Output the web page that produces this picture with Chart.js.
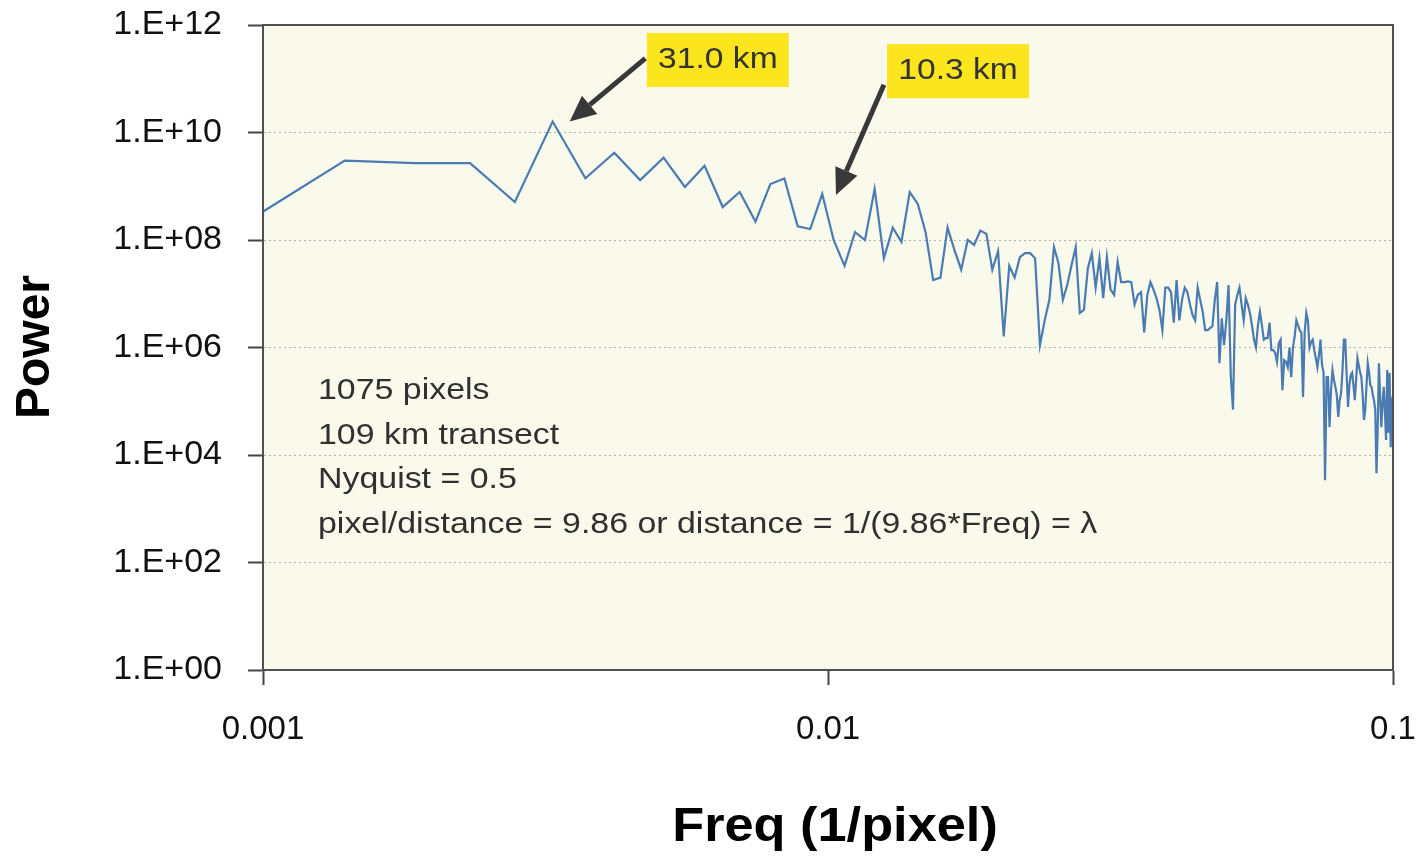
<!DOCTYPE html>
<html>
<head>
<meta charset="utf-8">
<title>Power spectrum</title>
<script src="https://cdn.jsdelivr.net/npm/chart.js@4.4.1/dist/chart.umd.min.js"></script>
<style>
  html, body { margin: 0; padding: 0; background: #ffffff; }
  canvas { display: block; }
</style>
</head>
<body>
<canvas id="grafico" width="1416" height="857"></canvas>
<script>
// transect sampled at 1075 pixels, FFT padded to 2150 points -> bin k sits at k/2150 cycles per pixel
const fftLength = 2150;
const firstBin = 2;

// power per bin, from bin 2 upward
const power = [
  2.1e8, 3.0e9, 2.7e9, 2.7e9, 5.1e8, 1.6e10, 1.4e9, 4.2e9, 1.3e9, 3.4e9,
  9.7e8, 2.4e9, 4.1e8, 7.8e8, 2.2e8, 1.1e9, 1.4e9, 1.8e8, 1.6e8, 7.2e8,
  1.0e8, 3.3e7, 1.4e8, 1.0e8, 8.9e8, 4.6e7, 1.7e8, 9.2e7, 7.8e8, 4.7e8,
  1.4e8, 1.8e7, 2.0e7, 1.7e8, 6.5e7, 2.8e7, 1.0e8, 8.1e7, 1.5e8, 1.3e8,
  2.8e7, 6.2e7, 1.6e6, 3.3e7, 2.0e7, 4.8e7, 5.7e7, 5.7e7, 4.6e7, 1.1e6,
  3.2e6, 7.7e6, 7.4e7, 3.7e7, 7.7e6, 1.45e7, 3.4e7, 7.4e7, 4.4e6, 5.0e6,
  3.0e7, 5.7e7, 1.3e7, 4.6e7, 8.3e6, 4.8e7, 1.2e7, 9.5e6, 3.9e7, 1.65e7,
  1.65e7, 1.7e7, 1.65e7, 6.3e6, 9.5e6, 1.07e7, 1.9e6, 9.5e6, 1.65e7, 1.2e7,
  8.3e6, 5.0e6, 2.1e6, 1.3e7, 1.3e7, 1.07e7, 2.9e6, 1.8e7, 3.2e6, 7.7e6,
  1.3e7, 1.07e7, 6.3e6, 4.0e6, 3.2e6, 1.3e7, 7.7e6, 4.6e6, 2.1e6, 2.1e6,
  2.3e6, 2.5e6, 7.7e6, 1.65e7, 5.1e5, 3.5e6, 1.1e6, 3.2e6, 1.45e7, 3.0e5,
  7.0e4, 6.3e6, 9.5e6, 1.3e7, 6.3e6, 3.2e6, 8.3e6, 6.3e6, 4.4e6, 2.6e6,
  1.4e6, 1.0e6, 2.6e6, 4.6e6, 2.6e6, 1.4e6, 1.5e6, 1.5e6, 2.9e6, 8.9e5,
  8.9e5, 7.9e5, 5.4e5, 1.2e6, 1.4e6, 1.6e5, 5.8e5, 5.4e5, 4.3e5, 1.0e6,
  2.8e5, 1.0e6, 1.6e6, 3.2e6, 2.6e6, 2.1e6, 1.9e6, 1.2e5, 1.9e6, 4.4e6,
  3.2e6, 1.0e6, 1.26e6, 1.4e6, 8.9e5, 6.3e5, 4.3e5, 7.2e5, 1.4e6, 4.7e5,
  3.5e5, 3.4e3, 2.8e5, 2.8e5, 3.3e4, 1.6e5, 3.8e5, 2.5e5, 1.85e5, 1.3e5,
  5.1e4, 1.05e5, 1.4e5, 3.8e5, 1.4e6, 1.4e6, 3.1e5, 7.8e4, 2.0e5, 3.1e5,
  3.4e5, 2.0e5, 1.05e5, 2.5e5, 6.3e5, 4.7e5, 3.5e5, 2.8e5, 1.3e5, 4.5e4,
  6.9e4, 2.0e5, 5.1e5, 3.5e5, 2.0e5, 1.85e5, 1.3e5, 1.05e5, 6.9e4, 4.6e3,
  3.0e4, 5.1e5, 1.3e5, 3.3e4, 8.5e4, 1.85e5, 6.9e4, 1.9e4, 3.8e5, 2.6e4,
  3.4e5, 1.4e4, 1.05e5, 1.3e5
];

const xTicks = [0.001, 0.01, 0.1];
const xTickLabels = ["0.001", "0.01", "0.1"];
const yTicks = [1, 1e2, 1e4, 1e6, 1e8, 1e10, 1e12];
const yTickLabels = ["1.E+00", "1.E+02", "1.E+04", "1.E+06", "1.E+08", "1.E+10", "1.E+12"];

const notas = [
  "1075 pixels",
  "109 km transect",
  "Nyquist = 0.5",
  "pixel/distance = 9.86 or distance = 1/(9.86*Freq) = \u03bb",
];

// callouts: yellow label box (top-left corner), arrow tail and arrow tip, in freq/power
const etiquetas = [
  { texto: "31.0 km", caja: [0.00478, 7.1e11], cola: [0.00475, 2.4e11], punta: [0.00349, 1.6e10] },
  { texto: "10.3 km", caja: [0.01272, 4.4e11], cola: [0.01256, 7.7e10], punta: [0.01033, 6.9e8] },
];

const puntos = power.map((p, i) => ({ x: (firstBin + i) / fftLength, y: p }));

const FAMILIA = "'Liberation Sans', Arial, sans-serif";

function textoAncho(ctx, txt, x, y, escala) {
  ctx.save();
  ctx.translate(x, y);
  ctx.scale(escala, 1);
  ctx.fillText(txt, 0, 0);
  ctx.restore();
}

function flecha(ctx, x0, y0, x1, y1) {
  const ang = Math.atan2(y1 - y0, x1 - x0);
  const largo = 26, ancho = 12;
  const bx = x1 - largo * Math.cos(ang);
  const by = y1 - largo * Math.sin(ang);
  ctx.strokeStyle = "#383838";
  ctx.fillStyle = "#383838";
  ctx.lineWidth = 5;
  ctx.beginPath();
  ctx.moveTo(x0, y0);
  ctx.lineTo(bx, by);
  ctx.stroke();
  ctx.beginPath();
  ctx.moveTo(x1, y1);
  ctx.lineTo(bx + ancho * Math.sin(ang), by - ancho * Math.cos(ang));
  ctx.lineTo(bx - ancho * Math.sin(ang), by + ancho * Math.cos(ang));
  ctx.closePath();
  ctx.fill();
}

const decorado = {
  id: "decorado",
  beforeDraw(chart) {
    const { ctx, chartArea: a } = chart;
    ctx.save();
    ctx.fillStyle = "#fafaec";
    ctx.fillRect(a.left, a.top, a.right - a.left, a.bottom - a.top);
    ctx.restore();
  },
  afterDraw(chart) {
    const { ctx, chartArea: a } = chart;
    const sx = chart.scales.x, sy = chart.scales.y;
    ctx.save();

    // frame round the plot area
    ctx.strokeStyle = "#505050";
    ctx.lineWidth = 2;
    ctx.strokeRect(a.left, a.top, a.right - a.left, a.bottom - a.top);

    // notes
    ctx.fillStyle = "#303030";
    ctx.font = "30px " + FAMILIA;
    ctx.textBaseline = "middle";
    ctx.textAlign = "left";
    notas.forEach((t, i) => textoAncho(ctx, t, a.left + 55, a.top + 366 + i * 44.5, 1.13));

    // callouts
    etiquetas.forEach((e) => {
      const bx = sx.getPixelForValue(e.caja[0]);
      const by = sy.getPixelForValue(e.caja[1]);
      ctx.fillStyle = "#fbe51f";
      ctx.fillRect(bx, by, 142, 54);
      ctx.fillStyle = "#333333";
      ctx.textAlign = "center";
      ctx.font = "30px " + FAMILIA;
      textoAncho(ctx, e.texto, bx + 71, by + 27, 1.12);
      flecha(ctx,
        sx.getPixelForValue(e.cola[0]), sy.getPixelForValue(e.cola[1]),
        sx.getPixelForValue(e.punta[0]), sy.getPixelForValue(e.punta[1]));
    });

    // axis titles
    ctx.fillStyle = "#000000";
    ctx.font = "bold 48px " + FAMILIA;
    ctx.textAlign = "center";
    textoAncho(ctx, "Freq (1/pixel)", 835, 828, 1.09);
    ctx.save();
    ctx.translate(36, 347);
    ctx.rotate(-Math.PI / 2);
    ctx.fillText("Power", 0, 0);
    ctx.restore();

    ctx.restore();
  },
};

const lienzo = document.querySelector("#grafico").getContext("2d");

new Chart(lienzo, {
  type: "line",
  data: {
    datasets: [
      {
        data: puntos,
        borderColor: "#4a7bb2",
        borderWidth: 2.2,
        pointRadius: 0,
        tension: 0,
        fill: false,
      },
    ],
  },
  options: {
    responsive: false,
    animation: false,
    layout: { padding: { top: 25, right: 23, left: 0, bottom: 0 } },
    plugins: { legend: { display: false }, tooltip: { enabled: false } },
    scales: {
      x: {
        type: "logarithmic",
        min: 0.001,
        max: 0.1,
        afterBuildTicks: (s) => { s.ticks = xTicks.map((v) => ({ value: v })); },
        afterFit: (s) => { s.height = 187; s.paddingLeft = 0; s.paddingRight = 0; },
        ticks: {
          autoSkip: false,
          maxRotation: 0,
          padding: 25,
          color: "#111111",
          font: { family: FAMILIA, size: 33 },
          callback: (v, i) => xTickLabels[i],
        },
        grid: { drawOnChartArea: false, tickLength: 15, tickColor: "#444444", tickWidth: 2 },
        border: { color: "#505050", width: 2 },
      },
      y: {
        type: "logarithmic",
        min: 1,
        max: 1e12,
        afterBuildTicks: (s) => { s.ticks = yTicks.map((v) => ({ value: v })); },
        afterFit: (s) => { s.width = 263; s.paddingTop = 0; s.paddingBottom = 0; },
        ticks: {
          autoSkip: false,
          padding: 26,
          color: "#111111",
          font: { family: FAMILIA, size: 34 },
          callback: (v, i) => yTickLabels[i],
        },
        grid: {
          color: "#b4b4aa",
          lineWidth: 1,
          tickLength: 15,
          tickColor: "#444444",
          tickWidth: 2,
        },
        border: { color: "#505050", width: 2, dash: [2, 3] },
      },
    },
  },
  plugins: [decorado],
});
</script>
</body>
</html>
